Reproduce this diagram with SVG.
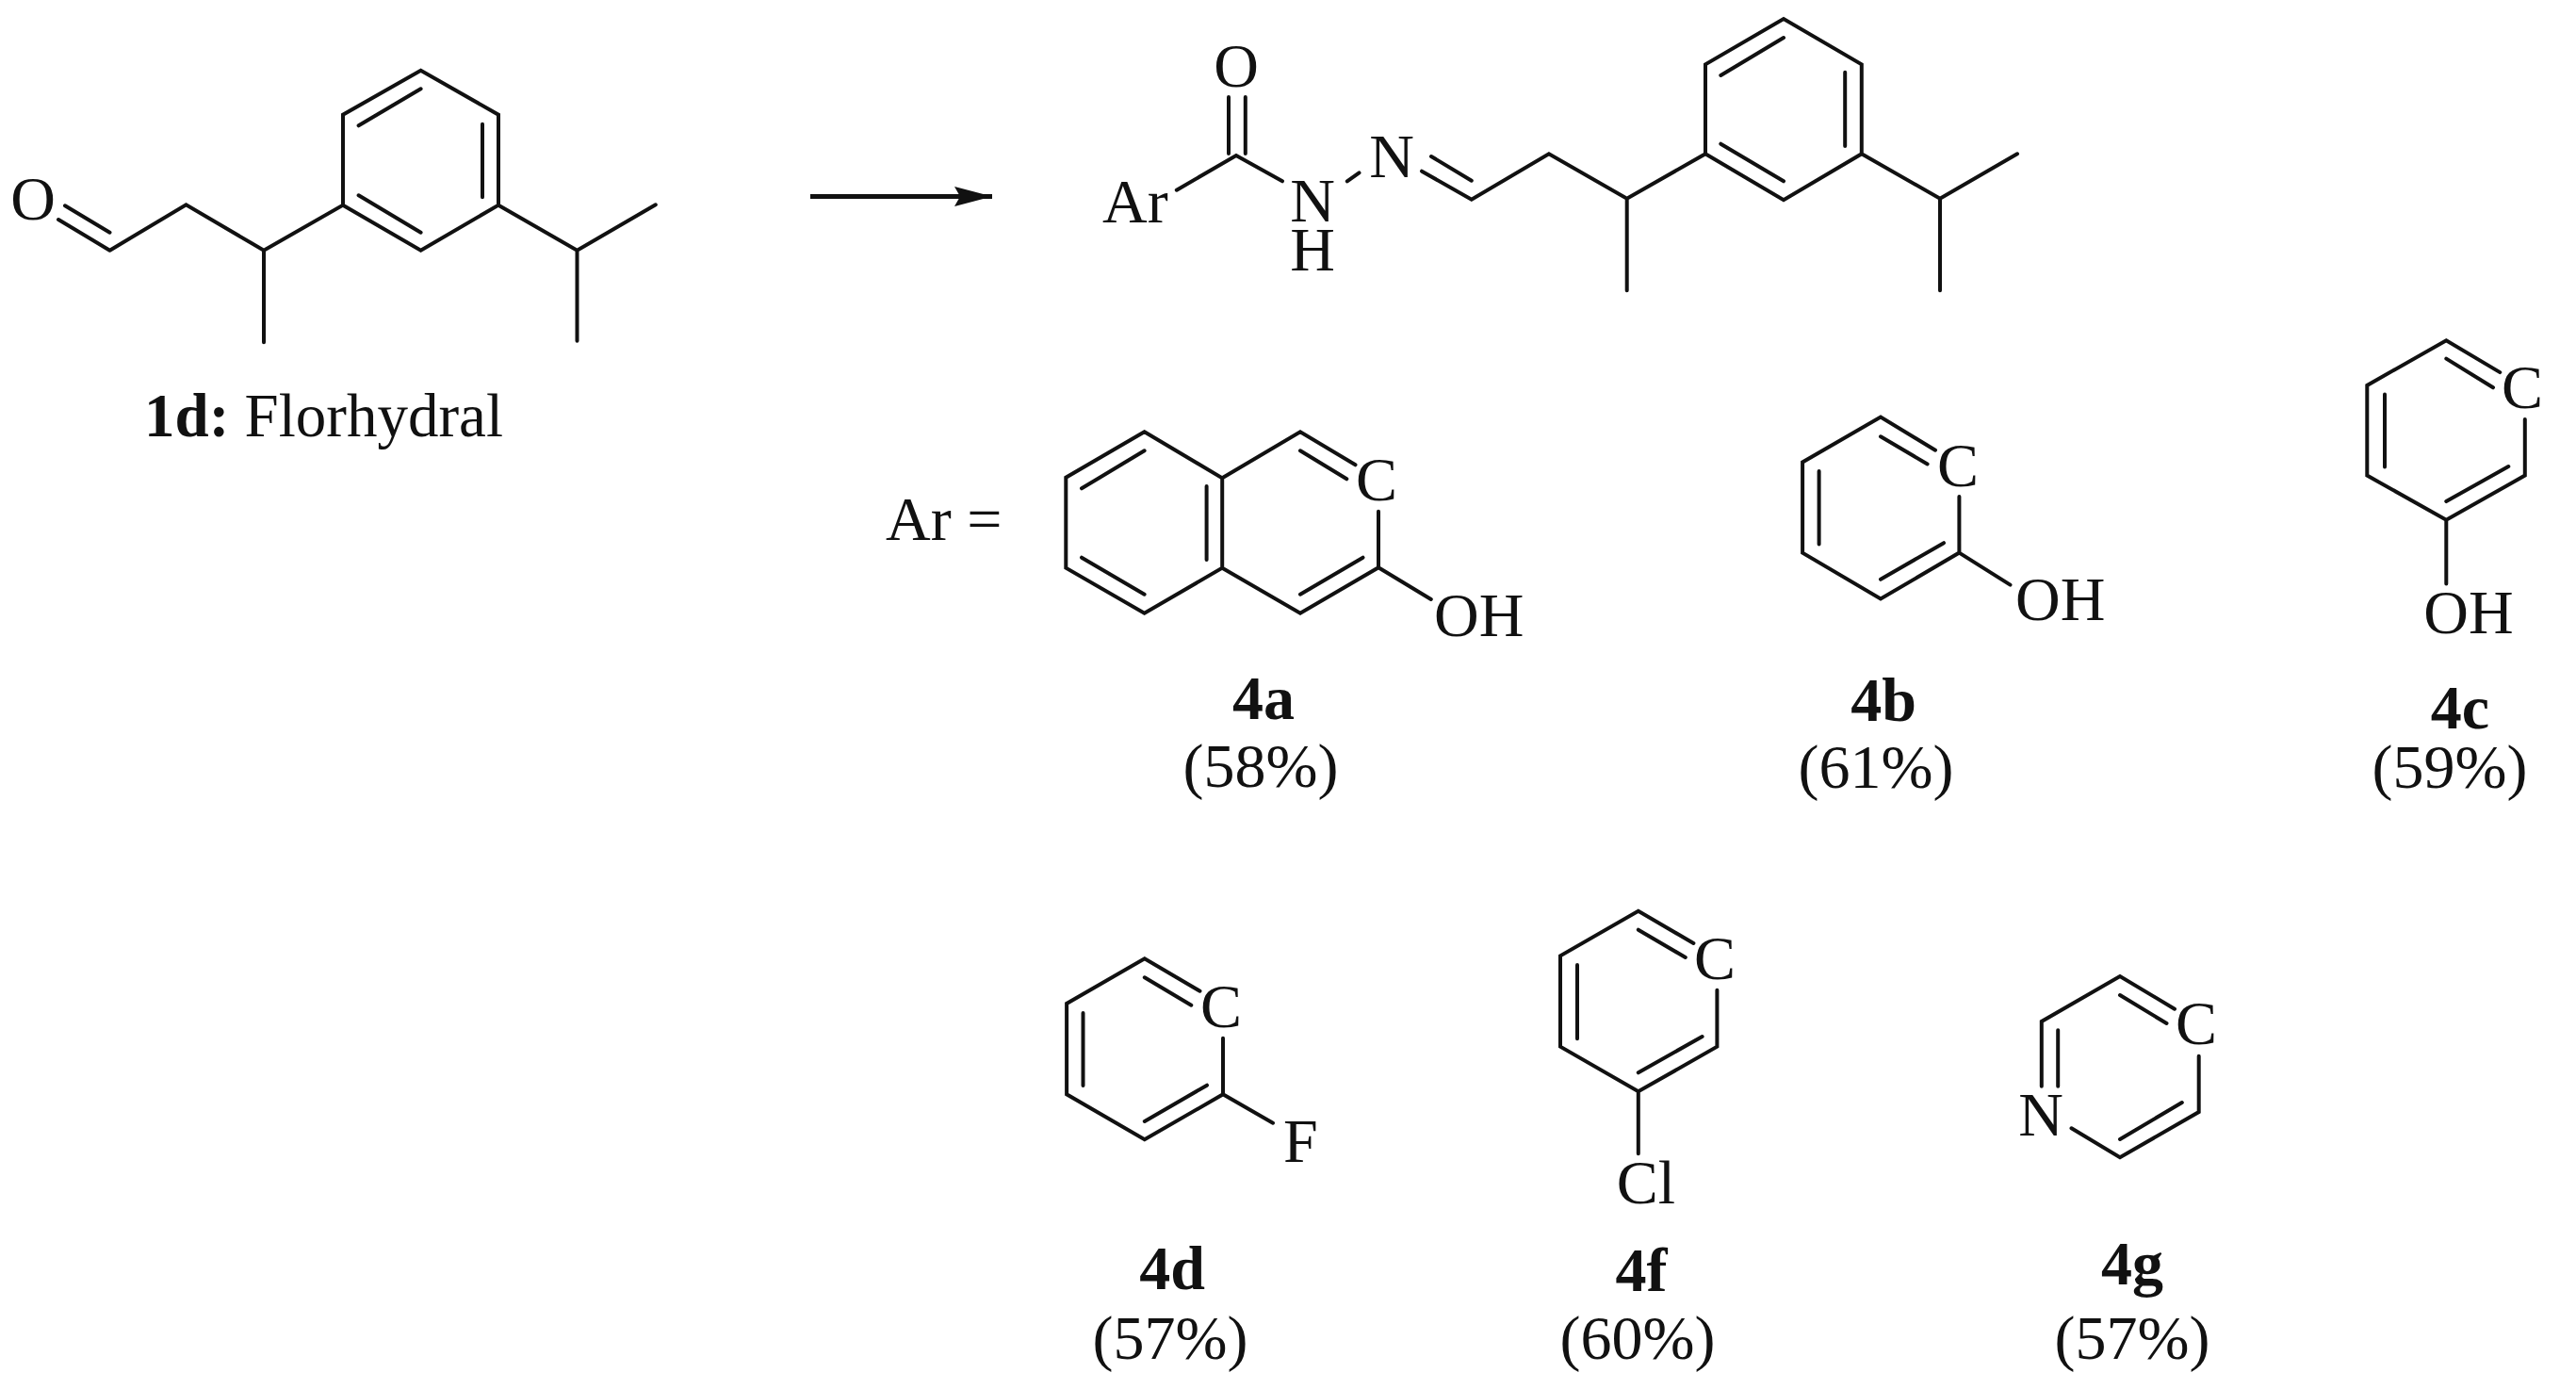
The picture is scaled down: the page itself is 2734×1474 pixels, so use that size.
<svg xmlns="http://www.w3.org/2000/svg" width="2734" height="1474" viewBox="0 0 2734 1474">
<style>
.b{fill:none;stroke:#111;stroke-width:4;stroke-linecap:round;stroke-linejoin:miter}
.arrow{fill:none;stroke:#111;stroke-width:5}
text{font-family:"Liberation Serif","Times New Roman",serif;font-size:66px;fill:#111}
.m{text-anchor:middle}
.bd{font-weight:bold}
.name{font-size:65px}
</style>
<defs>
<marker id="ah" markerUnits="userSpaceOnUse" markerWidth="44" markerHeight="26" refX="40" refY="13" orient="auto"><path d="M0 2.500 L40 13 L0 23.500 L6 13 Z" fill="#111"/></marker>
</defs>
<rect width="2734" height="1474" fill="#fff"/>
<g id="mol-1d">
<path class="b" d="M116.500 265.700L197.500 217.300L280 265.700L364 217.700L364 121.700L446.600 74.700L529 121.700L529 217.700L446.600 265.700L364 217.700M380.600 133.300L446.600 94.300M512 131.700L512 209.300M380.600 207.300L446.600 246.700M280 265.700L280 363.300M529 217.700L612.500 265.700L695.800 217.300M612.500 265.700L612.500 361.700M62 233L116.500 265.700M69 218.300L116.500 246.700"/>
<text class="m" x="35" y="233">O</text>
<text class="name" x="153" y="463"><tspan class="bd">1d:</tspan> Florhydral</text>
</g>
<g id="connectors">
<line class="arrow" x1="860" y1="208.500" x2="1053" y2="208.500" marker-end="url(#ah)"/>
</g>
<g id="mol-product">
<path class="b" d="M1248.800 201.700L1312 165L1361 192.300M1304 103L1304 163M1321.800 103L1321.800 163M1429.800 192.300L1442.500 183.300M1509 181.700L1561.800 211.700L1643.900 163.300L1726.700 210.700L1810 163.300L1810 68.300L1893 20L1975.800 68.300L1975.800 163.300L1893 212.300L1810 163.300M1519 166L1561.800 191.700M1826.300 80L1893 40M1958.200 76.700L1958.200 155M1826.300 152.700L1893 192.300M1726.700 210.700L1726.700 308.300M1975.800 163.300L2059 210.700L2141 163.300M2059 210.700L2059 308.300"/>
<text class="m" x="1312" y="92">O</text>
<text x="1170" y="236">Ar</text>
<text class="m" x="1393" y="235">N</text>
<text class="m" x="1393" y="287">H</text>
<text class="m" x="1477" y="188">N</text>
</g>
<g id="ar-label"><text x="940" y="573">Ar =</text></g>
<g id="mol-4a">
<path class="b" d="M1214.600 458.300L1131.300 506.700L1131.300 602.700L1214.600 650.700L1297.200 602.700L1297.200 507.300L1214.600 458.300M1148 518.300L1214.600 478.300M1280.600 516L1280.600 594M1148 591.700L1214.600 630.700M1297.200 507.300L1380 458.300L1438.500 493.300M1380 478.300L1429.300 508.300M1463 542.700L1463 602.300L1380 650.700L1297.200 602.700M1380 630.700L1446.500 591.700M1463 602.300L1518.800 636"/>
<text class="m" x="1461" y="531">C</text>
<text x="1522" y="675">OH</text>
<text class="m bd" x="1341" y="763">4a</text>
<text class="m" x="1338" y="835">(58%)</text>
</g>
<g id="mol-4b">
<path class="b" d="M2054 477.700L1996 442.600L1913.100 490.500L1913.100 586.600L1996 635.500L2079.400 586.600L2079.400 527M1996 463.300L2045.600 492.500M1930.600 500L1930.600 577.600M1996 614.800L2063 576.200M2079.400 586.600L2133.500 620.600"/>
<text class="m" x="2078" y="515.500">C</text>
<text x="2139" y="657.500">OH</text>
<text class="m bd" x="1999" y="765">4b</text>
<text class="m" x="1991" y="836">(61%)</text>
</g>
<g id="mol-4c">
<path class="b" d="M2653.300 395.100L2596.300 361.300L2512.300 408.900L2512.300 504.600L2596.300 551.800L2679.800 504.600L2679.800 445M2596.300 380.600L2646 411.300M2531 418.500L2531 495.600M2596.300 532.100L2662.300 495M2596.300 551.800L2596.300 619.600"/>
<text class="m" x="2677" y="433">C</text>
<text class="m" x="2620" y="672">OH</text>
<text class="m bd" x="2611" y="773">4c</text>
<text class="m" x="2600" y="836">(59%)</text>
</g>
<g id="mol-4d">
<path class="b" d="M1273.500 1051.700L1214.800 1017.300L1132.100 1065L1132.100 1161.300L1214.800 1209.300L1298 1161.300L1298 1101.700M1214.800 1037.300L1264.300 1066.700M1149.500 1075L1149.500 1152M1214.800 1190L1281 1151.700M1298 1161.300L1351 1191.700"/>
<text class="m" x="1296" y="1090">C</text>
<text x="1362" y="1233">F</text>
<text class="m bd" x="1244" y="1368">4d</text>
<text class="m" x="1242" y="1442">(57%)</text>
</g>
<g id="mol-4f">
<path class="b" d="M1797.400 1001L1738.800 966.700L1656 1014.300L1656 1110.700L1738.800 1158.300L1822.400 1110.700L1822.400 1050.700M1738.800 986.700L1788.800 1016M1674 1024L1674 1102.300M1738.800 1138.300L1806.600 1100M1738.800 1158.300L1738.800 1224.300"/>
<text class="m" x="1820" y="1039">C</text>
<text class="m" x="1747" y="1277">Cl</text>
<text class="m bd" x="1742" y="1370">4f</text>
<text class="m" x="1738" y="1442">(60%)</text>
</g>
<g id="mol-4g">
<path class="b" d="M2308 1070.700L2250 1036L2166.800 1084L2166.800 1152.700M2184.200 1093.300L2184.200 1152.700M2250 1056L2299.500 1086M2198.500 1197.300L2250 1228.300L2333.700 1180L2333.700 1120.700M2250 1209L2315.800 1170"/>
<text class="m" x="2331" y="1108">C</text>
<text class="m" x="2166" y="1205">N</text>
<text class="m bd" x="2263" y="1363">4g</text>
<text class="m" x="2263" y="1442">(57%)</text>
</g>
</svg>
